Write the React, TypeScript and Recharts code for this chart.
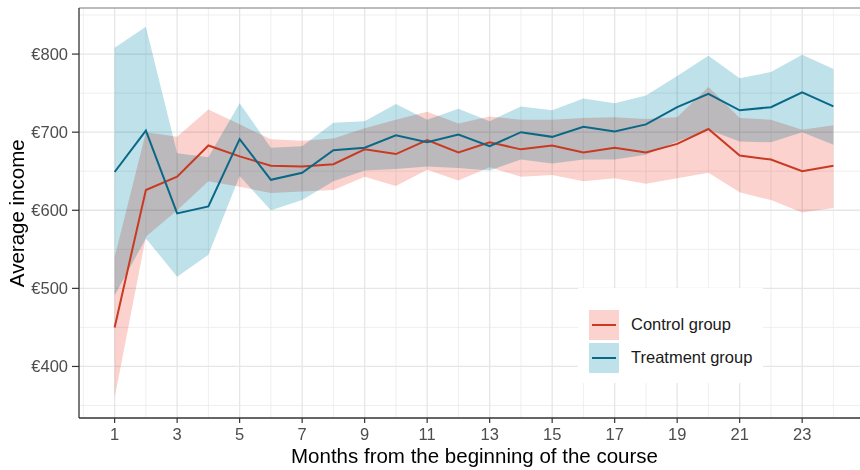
import React from 'react';
import { ComposedChart, Area, Line, XAxis, YAxis, CartesianGrid, ReferenceLine, Legend } from 'recharts';

// months since the course began
const months = [1, 2, 3, 4, 5, 6, 7, 8, 9, 10, 11, 12, 13, 14, 15, 16, 17, 18, 19, 20, 21, 22, 23, 24];

const controlMean = [450, 626, 643, 683, 669, 657, 656, 659, 678, 672, 690, 674, 687, 678, 683, 674, 680, 674, 685, 704, 670, 665, 650, 657];
const controlLow = [360, 566, 600, 637, 630, 622, 624, 626, 643, 631, 652, 638, 655, 643, 645, 637, 641, 634, 641, 648, 623, 613, 597, 603];
const controlHigh = [540, 700, 694, 729, 710, 691, 689, 692, 705, 716, 726, 711, 720, 716, 716, 718, 719, 717, 719, 758, 718, 716, 703, 709];

const treatmentMean = [649, 702, 596, 605, 691, 639, 648, 677, 680, 696, 687, 697, 682, 700, 694, 707, 701, 710, 732, 749, 728, 732, 751, 733];
const treatmentLow = [491, 564, 515, 543, 644, 600, 613, 637, 651, 653, 656, 654, 651, 665, 660, 665, 665, 671, 688, 703, 688, 687, 700, 684];
const treatmentHigh = [808, 835, 673, 668, 737, 680, 682, 712, 714, 736, 716, 730, 714, 733, 728, 743, 737, 747, 772, 798, 769, 777, 799, 781];

const xTicks = [1, 3, 5, 7, 9, 11, 13, 15, 17, 19, 21, 23];
const xMinor = [0, 2, 4, 6, 8, 10, 12, 14, 16, 18, 20, 22, 24];
const yTicks = [400, 500, 600, 700, 800];
const yMinor = [350, 450, 550, 650, 750, 850];

const groups = [
  { name: 'Control group', line: '#C93A22', band: '#FBD2CD' },
  { name: 'Treatment group', line: '#0A6886', band: '#BEE1EA' },
];

const data = months.map((m, i) => ({
  month: m,
  control: controlMean[i],
  controlBand: [controlLow[i], controlHigh[i]],
  treatment: treatmentMean[i],
  treatmentBand: [treatmentLow[i], treatmentHigh[i]],
}));

const FONT = '"Liberation Sans", Arial, Helvetica, sans-serif';
const tickStyle = { fill: '#4D4D4D', fontSize: 16.5, fontFamily: FONT };

const renderLegend = () => (
  <div style={{ background: '#fff', width: 185, height: 95, boxSizing: 'border-box', paddingTop: 20, paddingLeft: 11 }}>
    {groups.map((g) => (
      <div key={g.name} style={{ display: 'flex', alignItems: 'center', height: 33 }}>
        <div style={{ width: 30, height: 30, background: g.band, position: 'relative' }}>
          <div style={{ position: 'absolute', left: 3, right: 3, top: 14, height: 2, background: g.line }} />
        </div>
        <span style={{ marginLeft: 12, fontFamily: FONT, fontSize: 16.5, color: '#1A1A1A' }}>{g.name}</span>
      </div>
    ))}
  </div>
);

export default function App() {
  return (
    <div style={{ position: 'absolute', left: 0, top: 0, width: 860, height: 470, overflow: 'hidden', background: '#fff' }}>
      <style>{`.recharts-area, .recharts-area path { mix-blend-mode: multiply; }`}</style>
      <ComposedChart width={880} height={470} data={data} margin={{ top: 8, right: 10, left: 0, bottom: 12 }}>
        <CartesianGrid stroke="#EBEBEB" strokeWidth={0.8} horizontalValues={yMinor} verticalValues={xMinor} />
        <CartesianGrid stroke="#E6E6E6" strokeWidth={1.3} horizontalValues={yTicks} verticalValues={xTicks} />
        <XAxis
          dataKey="month"
          type="number"
          domain={[-0.14, 25.17]}
          ticks={xTicks}
          allowDataOverflow
          height={40}
          tickSize={5}
          tickMargin={5}
          tick={tickStyle}
          axisLine={{ stroke: '#333', strokeWidth: 1.3 }}
          tickLine={{ stroke: '#333', strokeWidth: 1.2 }}
        />
        <YAxis
          type="number"
          domain={[334, 859]}
          ticks={yTicks}
          allowDataOverflow
          width={79}
          tickSize={7}
          tickMargin={4}
          tick={tickStyle}
          tickFormatter={(v) => `€${v}`}
          axisLine={{ stroke: '#333', strokeWidth: 1.3 }}
          tickLine={{ stroke: '#333', strokeWidth: 1.2 }}
        />
        <ReferenceLine y={859} stroke="#A6A6A6" strokeWidth={1.5} />
        <Area className="band" dataKey="treatmentBand" stroke="none" fill={groups[1].band} fillOpacity={1} isAnimationActive={false} legendType="none" />
        <Area className="band" dataKey="controlBand" stroke="none" fill={groups[0].band} fillOpacity={1} isAnimationActive={false} legendType="none" />
        <Line dataKey="control" name="Control group" stroke={groups[0].line} strokeWidth={2} dot={false} isAnimationActive={false} />
        <Line dataKey="treatment" name="Treatment group" stroke={groups[1].line} strokeWidth={2} dot={false} isAnimationActive={false} />
        <Legend
          layout="vertical"
          align="center"
          verticalAlign="middle"
          content={renderLegend}
          wrapperStyle={{ left: 578, top: 288, width: 185, height: 95 }}
        />
      </ComposedChart>
      <div style={{ position: 'absolute', left: 0, width: 949, top: 445.5, lineHeight: '20.5px', textAlign: 'center', fontFamily: FONT, fontSize: 20.5, color: '#000' }}>
        Months from the beginning of the course
      </div>
      <div style={{ position: 'absolute', left: 17.4 - 150, top: 213 - 10.25, width: 300, height: 20.5, lineHeight: '20.5px', textAlign: 'center', fontFamily: FONT, fontSize: 20.5, color: '#000', transform: 'rotate(-90deg)' }}>
        Average income
      </div>
    </div>
  );
}
